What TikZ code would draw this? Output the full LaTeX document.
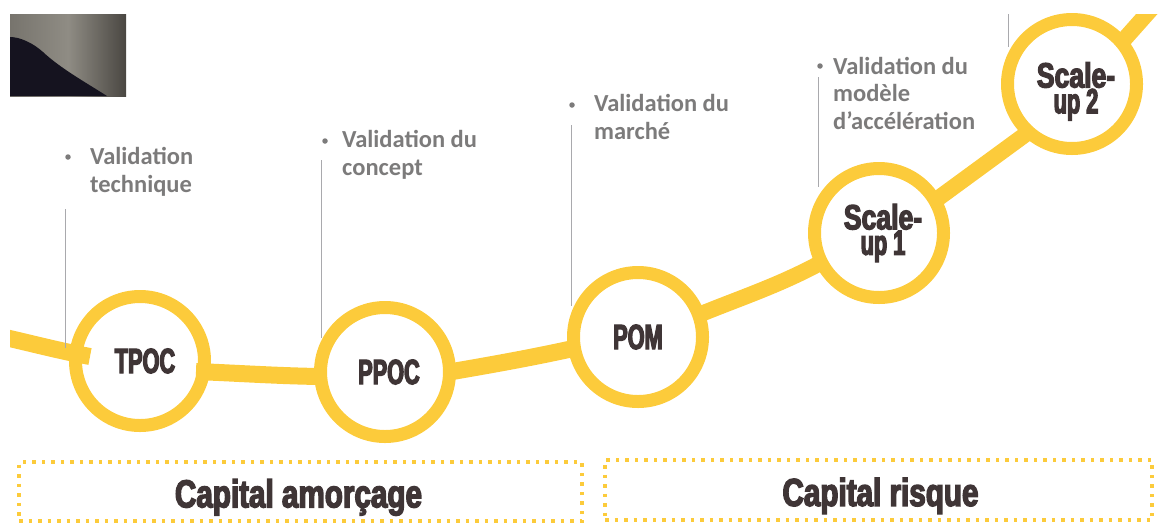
\documentclass[tikz,border=0pt]{standalone}
\usepackage{fontspec}
\setmainfont{Carlito}
\newfontfamily\heavy[FakeStretch=0.62,FakeBold=3.5]{Liberation Sans Bold}
\newfontfamily\heavywide[FakeStretch=0.76,FakeBold=3.5]{Liberation Sans Bold}
\definecolor{gold}{HTML}{FCCB3B}
\definecolor{ink}{HTML}{3F3536}
\definecolor{greytext}{HTML}{7C7B7B}
\definecolor{thin}{HTML}{A9A9AD}
\definecolor{photoL}{HTML}{77746D}
\definecolor{photoM}{HTML}{8F8C84}
\definecolor{photoR}{HTML}{4A4742}
\definecolor{photoD}{HTML}{15131F}
\tikzset{
  ring/.style={circle,draw=gold,line width=13pt,minimum size=129pt,inner sep=0pt,outer sep=0pt,
    text=ink,align=center,font=\heavy\fontsize{35}{22}\selectfont},
  band/.style={draw=gold,line width=17pt,line cap=butt},
  slope/.style={draw=gold,line width=16pt,line cap=butt},
  leader/.style={draw=thin,line width=0.8pt},
  note/.style={anchor=base west,inner sep=0pt,text=greytext,font=\bfseries\fontsize{24.5}{27.5}\selectfont,align=left},
  dotmark/.style={circle,fill=greytext,inner sep=0pt,minimum size=5.5pt},
  fundbox/.style={draw=gold,line width=3.5pt,dash pattern=on 3.5pt off 6pt,text=ink,inner sep=0pt,font=\heavywide\fontsize{39}{40}\selectfont},
}
\begin{document}
\begin{tikzpicture}[x=1pt,y=-1pt]
\useasboundingbox (0,0) rectangle (1158,523);
% photo fragment
\fill[left color=photoL,right color=photoR,middle color=photoM] (10,14) rectangle (126,96);
\fill[photoD] (10,96) -- (10,37) .. controls (20,37) and (33,43) .. (43,52) .. controls (60,68) and (85,82) .. (107,96) -- cycle;
% rings
\node[ring] (tpoc) at (140,361) {\hspace*{10pt}TPOC};
\node[ring] (ppoc) at (385,372) {\hspace*{8pt}PPOC};
\node[ring] (pom) at (638,337) {POM};
\node[ring] (su1) at (879,233) {\hspace*{8pt}{\heavywide Scale-}\\\hspace*{8pt}up 1};
\node[ring] (su2) at (1072,84) {\rule{0pt}{40pt}\hspace*{8pt}{\heavywide Scale-}\\\hspace*{8pt}up 2};
% free ends of the connectors
\coordinate (inL) at (3,337);
\coordinate (stubL) at (90,356.5);
\coordinate (stubR) at (196,371.5);
\coordinate (outR) at (1161,-2);
\begin{scope}
\clip (10,14) rectangle (1158,523);
\draw[band] (inL) .. controls (30,343) and (60,351) .. (stubL);
\draw[band] (stubR) .. controls (235,373) and (280,376) .. (ppoc.184);
\draw[band] (ppoc.east) .. controls (490,365) and (530,358) .. (pom.190);
\draw[slope] (pom.20) .. controls (740,298) and (780,285) .. (su1.207);
\draw[slope] (su1.30) -- (su2.228);
\draw[slope] (su2.40) -- (outR);
\end{scope}
% leaders
\coordinate (l1) at (65,209);
\coordinate (l2) at (321,160);
\coordinate (l3) at (571,125);
\coordinate (l4) at (818,77);
\coordinate (l5) at (1008,14);
\draw[leader] (l1) -- (65,348);
\draw[leader] (l2) -- (321,338);
\draw[leader] (l3) -- (571,306);
\draw[leader] (l4) -- (818,187);
\draw[leader] (l5) -- (1008,47);
% notes
\node[dotmark] (b1) at (68,157) {};
\node[note] (n1) at (90,192) {Validation\\technique};
\node[dotmark] (b2) at (325,141) {};
\node[note] (n2) at (342,175) {Validation du\\concept};
\node[dotmark] (b3) at (572,105) {};
\node[note] (n3) at (594,139) {Validation du\\marché};
\node[dotmark] (b4) at (820,66) {};
\node[note] (n4) at (833,129) {Validation du\\modèle\\d’accélération};
% funding boxes
\node[fundbox,minimum width=563pt,minimum height=59pt] (f1) at (300.5,491.5) {\rule{0pt}{40pt}\hspace*{-4pt}Capital amorçage};
\node[fundbox,minimum width=547pt,minimum height=60pt] (f2) at (878.5,490) {\rule{0pt}{40pt}\hspace*{4pt}Capital risque};
\end{tikzpicture}
\end{document}
